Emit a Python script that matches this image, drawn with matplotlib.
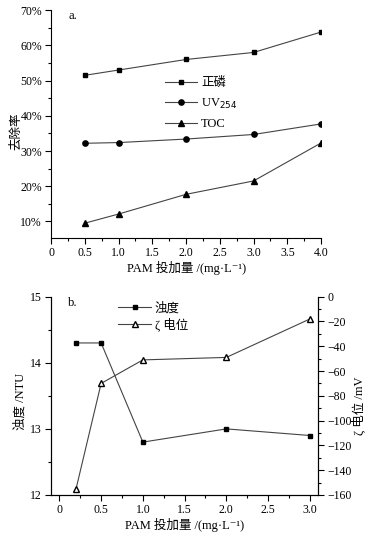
import matplotlib.pyplot as plt
from matplotlib.ticker import MultipleLocator, FuncFormatter

plt.rcParams['font.family'] = ['Liberation Serif', 'Noto Sans CJK SC', 'DejaVu Serif']
plt.rcParams['font.size'] = 9
plt.rcParams['xtick.labelsize'] = 8.5
plt.rcParams['ytick.labelsize'] = 8.5

# panel a data
dose_a = [0.5, 1.0, 2.0, 3.0, 4.0]
phos = [51.5, 53.0, 56.0, 58.0, 63.8]
uv254 = [32.2, 32.4, 33.4, 34.7, 37.7]
toc = [9.5, 12.1, 17.7, 21.5, 32.3]

# panel b data
dose_b = [0.2, 0.5, 1.0, 2.0, 3.0]
turb = [14.3, 14.3, 12.8, 13.0, 12.9]
zeta = [-155, -70, -51, -49, -18]

xlab = 'PAM 投加量 /(mg·L⁻¹)'
lc = '#444444'

fig = plt.figure(figsize=(3.67, 5.36), dpi=100)

# ---- panel a ----
ax = fig.add_axes([0.139, 0.556, 0.736, 0.425])
ax.plot(dose_a, phos, color=lc, lw=0.8, marker='s', ms=3.3, mfc='k', mec='k', label='正磷')
ax.plot(dose_a, uv254, color=lc, lw=0.8, marker='o', ms=3.8, mfc='k', mec='k', label='UV$_{254}$')
ax.plot(dose_a, toc, color=lc, lw=0.8, marker='^', ms=4.2, mfc='k', mec='k', label='TOC')
ax.set_xlim(0, 4.0)
ax.set_ylim(5.3, 70)
ax.xaxis.set_major_locator(MultipleLocator(0.5))
ax.xaxis.set_minor_locator(MultipleLocator(0.25))
ax.yaxis.set_major_locator(MultipleLocator(10))
ax.yaxis.set_minor_locator(MultipleLocator(5))
ax.xaxis.set_major_formatter(FuncFormatter(lambda v, p: '0' if v == 0 else f'{v:.1f}'))
ax.yaxis.set_major_formatter(FuncFormatter(lambda v, p: f'{v:.0f}%'))
ax.spines['top'].set_visible(False)
ax.spines['right'].set_visible(False)
ax.tick_params(which='major', length=4, width=0.8, pad=2.5)
ax.tick_params(which='minor', length=2.5, width=0.8)
ax.set_ylabel('去除率')
ax.yaxis.set_label_coords(-0.105, 0.47)
ax.set_xlabel(xlab, labelpad=1.5)
ax.text(0.063, 1.0, 'a.', transform=ax.transAxes, va='top')
ax.legend(frameon=False, loc='upper left', bbox_to_anchor=(0.38, 0.755),
          handlelength=2.6, labelspacing=0.6, handletextpad=0.3)

# ---- panel b ----
bx = fig.add_axes([0.139, 0.0765, 0.728, 0.37])
l1, = bx.plot(dose_b, turb, color=lc, lw=0.8, marker='s', ms=3.2, mfc='k', mec='k', label='浊度')
bx.set_xlim(-0.1, 3.1)
bx.set_ylim(12, 15)
bx.xaxis.set_major_locator(MultipleLocator(0.5))
bx.xaxis.set_minor_locator(MultipleLocator(0.25))
bx.yaxis.set_major_locator(MultipleLocator(1))
bx.yaxis.set_minor_locator(MultipleLocator(0.5))
bx.xaxis.set_major_formatter(FuncFormatter(lambda v, p: '0' if v == 0 else f'{v:.1f}'))
bx.spines['top'].set_visible(False)
bx.tick_params(which='major', length=4, width=0.8, pad=2.5)
bx.tick_params(which='minor', length=2.5, width=0.8)
bx.set_ylabel('浊度 /NTU')
bx.yaxis.set_label_coords(-0.09, 0.47)
bx.set_xlabel(xlab, labelpad=1.5)
bx.text(0.063, 1.0, 'b.', transform=bx.transAxes, va='top')

rx = bx.twinx()
l2, = rx.plot(dose_b, zeta, color=lc, lw=0.8, marker='^', ms=4.5, mfc='white', mec='k', label='ζ 电位')
rx.set_ylim(-160, 0)
rx.yaxis.set_major_locator(MultipleLocator(20))
rx.yaxis.set_minor_locator(MultipleLocator(10))
rx.spines['top'].set_visible(False)
rx.tick_params(which='major', length=4, width=0.8, pad=2.5)
rx.tick_params(which='minor', length=2.5, width=0.8)
rx.set_ylabel('ζ 电位 /mV')
rx.yaxis.set_label_coords(1.125, 0.45)
rx.legend([l1, l2], ['浊度', 'ζ 电位'], frameon=False, loc='upper left',
          bbox_to_anchor=(0.21, 1.03), handlelength=2.6, labelspacing=0.25, handletextpad=0.3)

fig.savefig('out.png', dpi=100)
